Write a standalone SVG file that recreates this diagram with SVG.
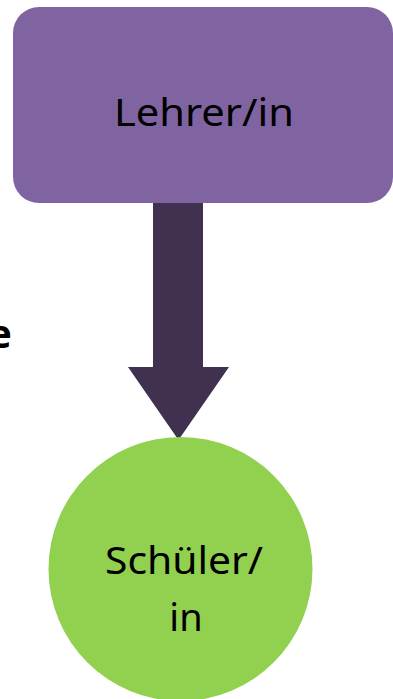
<svg xmlns="http://www.w3.org/2000/svg" width="393" height="699" viewBox="0 0 393 699">
<style>
.lbl{font-family:"Noto Sans","Open Sans",sans-serif;font-size:38px;fill:#000;text-anchor:middle}
.side{font-family:"Noto Sans","Open Sans",sans-serif;font-size:40px;font-weight:bold;fill:#000;text-anchor:end}
</style>
<rect width="393" height="699" fill="#fff"/>
<text class="side" x="12" y="348">e</text>
<g id="connectors">
<polygon points="153,203 203,203 203,367 229,367 178.5,440 128,367 153,367" fill="#403151"/>
</g>
<g id="lehrer">
<rect x="13" y="7" width="380" height="196" rx="26" ry="26" fill="#8064A2"/>
<text class="lbl" x="204" y="126" textLength="180" lengthAdjust="spacingAndGlyphs">Lehrer/in</text>
</g>
<g id="schueler">
<circle cx="180.5" cy="569" r="132" fill="#92D050"/>
<text class="lbl" x="184" y="574" textLength="158" lengthAdjust="spacingAndGlyphs">Schüler/</text>
<text class="lbl" x="186" y="631">in</text>
</g>
</svg>
